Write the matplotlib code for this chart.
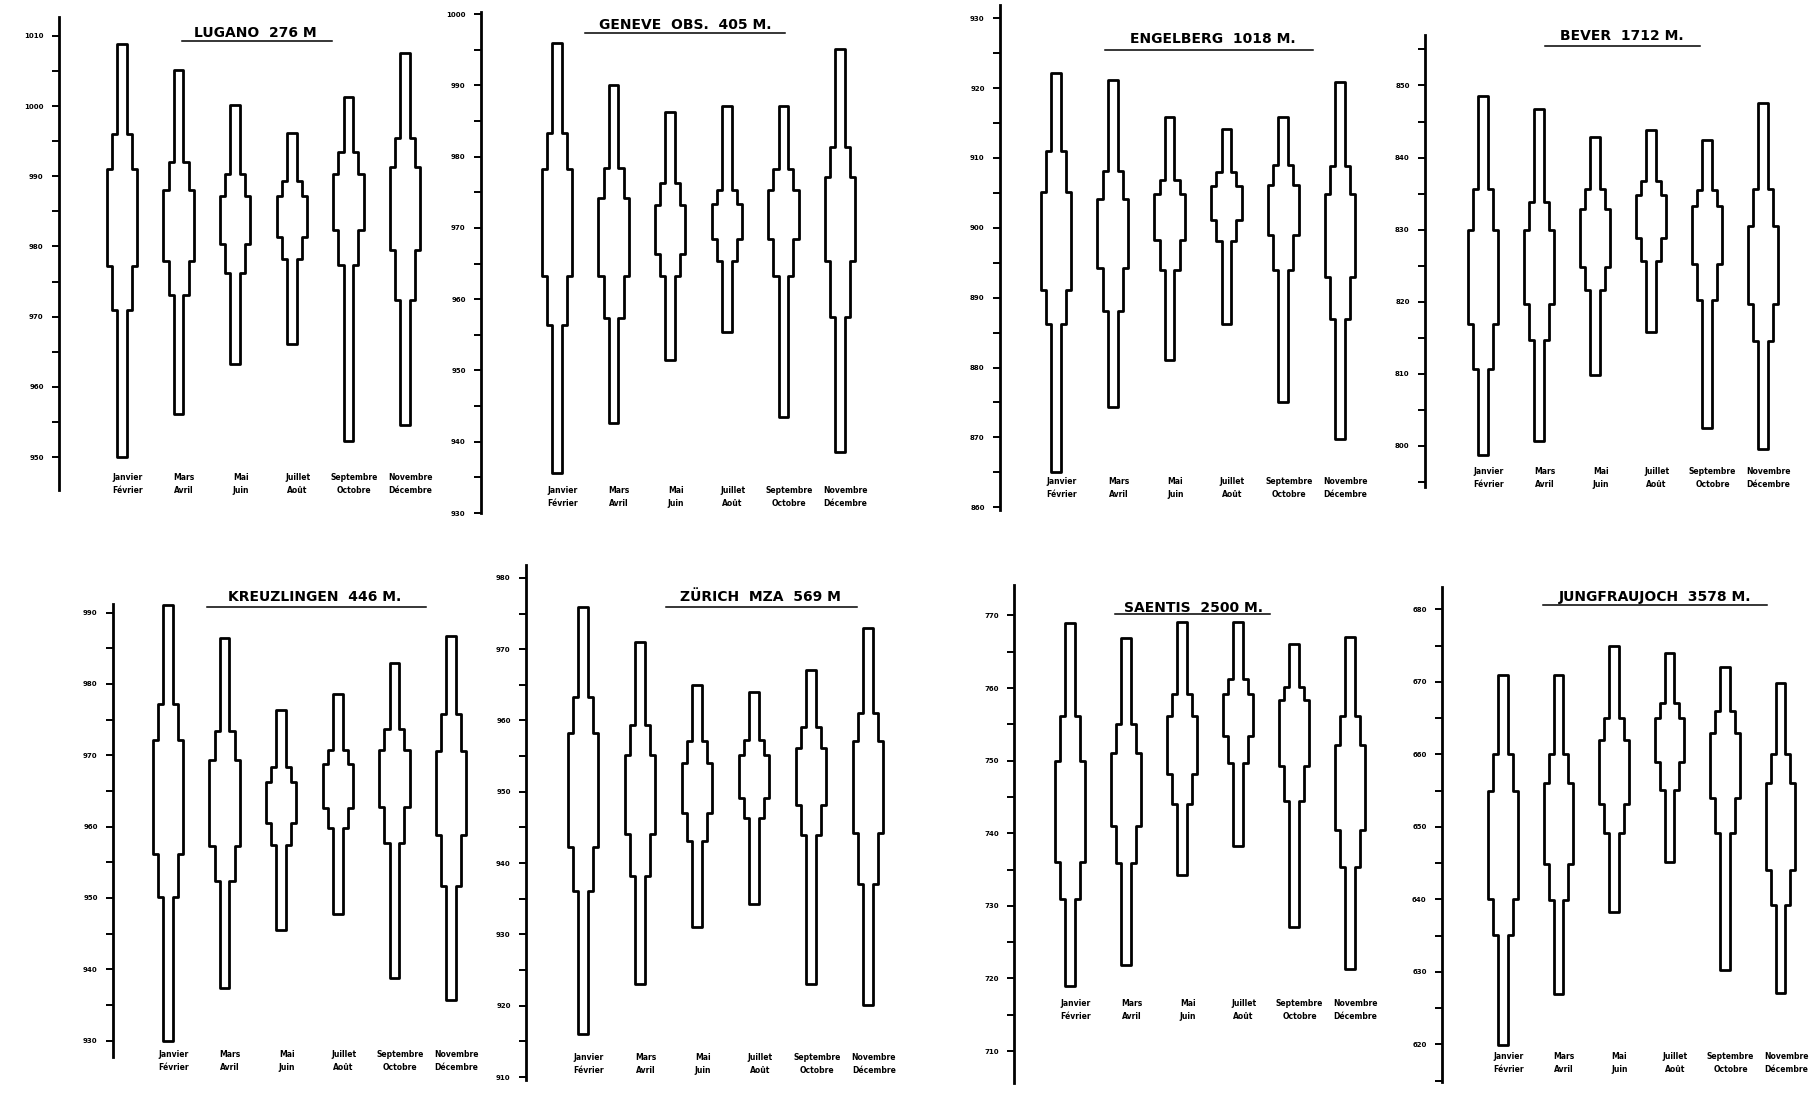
import matplotlib
matplotlib.use("Agg")
import matplotlib.pyplot as plt
from matplotlib.ticker import MultipleLocator
from matplotlib.patches import Polygon
from matplotlib.lines import Line2D
import matplotlib.transforms as mtransforms

plt.rcParams['font.family'] = ['DejaVu Sans']
plt.rcParams['font.weight'] = 'bold'

W, H = 1818, 1107

CATEGORIES = ["Janvier\nFévrier", "Mars\nAvril", "Mai\nJuin",
              "Juillet\nAoût", "Septembre\nOctobre", "Novembre\nDécembre"]

# ---- data (hPa): maximum, upper inner, upper core, lower core, lower inner, minimum
LUGANO_MAX = [1008.9, 1005.2, 1000.1, 996.2, 1001.3, 1007.5]
LUGANO_HI2 = [996.0, 992.1, 990.3, 989.3, 993.4, 995.5]
LUGANO_HI1 = [991.1, 988.1, 987.2, 987.2, 990.3, 991.3]
LUGANO_LO1 = [977.2, 978.0, 980.3, 981.4, 982.3, 979.5]
LUGANO_LO2 = [971.0, 973.1, 976.2, 978.2, 977.3, 972.4]
LUGANO_MIN = [950.0, 956.1, 963.2, 966.1, 952.3, 954.5]

GENEVE_MAX = [996.0, 990.1, 986.2, 987.1, 987.1, 995.1]
GENEVE_HI2 = [983.3, 978.4, 976.3, 975.3, 978.3, 981.3]
GENEVE_HI1 = [978.2, 974.2, 973.2, 973.3, 975.3, 977.2]
GENEVE_LO1 = [963.3, 963.2, 966.3, 968.5, 968.5, 965.3]
GENEVE_LO2 = [956.4, 957.4, 963.3, 965.3, 963.3, 957.5]
GENEVE_MIN = [935.6, 942.6, 951.4, 955.4, 943.5, 938.5]

ENGELBERG_MAX = [922.1, 921.1, 915.9, 914.1, 915.9, 920.9]
ENGELBERG_HI2 = [911.0, 908.1, 906.9, 908.0, 909.0, 908.9]
ENGELBERG_HI1 = [905.1, 904.1, 904.9, 906.0, 906.1, 904.8]
ENGELBERG_LO1 = [891.1, 894.2, 898.3, 901.1, 899.0, 893.0]
ENGELBERG_LO2 = [886.3, 888.1, 894.0, 898.1, 894.0, 886.9]
ENGELBERG_MIN = [865.1, 874.3, 881.1, 886.2, 875.0, 869.8]

BEVER_MAX = [848.5, 846.7, 842.8, 843.8, 842.4, 847.6]
BEVER_HI2 = [835.6, 833.8, 835.7, 836.8, 835.5, 835.7]
BEVER_HI1 = [829.9, 829.9, 832.8, 834.8, 833.3, 830.5]
BEVER_LO1 = [816.9, 819.7, 824.8, 828.8, 825.3, 819.7]
BEVER_LO2 = [810.7, 814.7, 821.6, 825.6, 820.2, 814.6]
BEVER_MIN = [798.7, 800.7, 809.8, 815.8, 802.5, 799.6]

KREUZLINGEN_MAX = [991.1, 986.4, 976.4, 978.6, 982.9, 986.7]
KREUZLINGEN_HI2 = [977.2, 973.4, 968.4, 970.8, 973.7, 975.8]
KREUZLINGEN_HI1 = [972.2, 969.4, 966.3, 968.8, 970.7, 970.6]
KREUZLINGEN_LO1 = [956.2, 957.3, 960.5, 962.6, 962.8, 958.8]
KREUZLINGEN_LO2 = [950.1, 952.4, 957.4, 959.8, 957.7, 951.7]
KREUZLINGEN_MIN = [930.0, 937.4, 945.5, 947.8, 938.8, 935.7]

ZURICH_MAX = [975.9, 971.0, 965.0, 964.0, 967.1, 973.0]
ZURICH_HI2 = [963.3, 959.3, 957.1, 957.2, 959.1, 961.1]
ZURICH_HI1 = [958.2, 955.1, 954.1, 955.2, 956.1, 957.1]
ZURICH_LO1 = [942.2, 944.1, 947.1, 949.2, 948.1, 944.2]
ZURICH_LO2 = [936.1, 938.2, 943.1, 946.3, 943.9, 937.1]
ZURICH_MIN = [916.0, 923.1, 931.1, 934.3, 923.1, 920.1]

SAENTIS_MAX = [768.9, 766.9, 769.1, 769.1, 766.1, 767.0]
SAENTIS_HI2 = [756.1, 755.1, 759.2, 761.2, 760.2, 756.1]
SAENTIS_HI1 = [750.0, 751.1, 756.1, 759.2, 758.3, 752.2]
SAENTIS_LO1 = [736.0, 741.0, 748.2, 753.4, 749.3, 740.4]
SAENTIS_LO2 = [731.0, 735.9, 744.1, 749.7, 744.4, 735.4]
SAENTIS_MIN = [719.0, 721.9, 734.2, 738.2, 727.1, 721.3]

JUNGFRAU_MAX = [670.9, 670.9, 674.9, 674.0, 672.0, 669.9]
JUNGFRAU_HI2 = [660.0, 660.0, 665.0, 667.1, 666.0, 660.0]
JUNGFRAU_HI1 = [655.0, 656.0, 662.0, 665.0, 663.0, 656.0]
JUNGFRAU_LO1 = [640.1, 644.9, 653.2, 659.0, 654.0, 644.0]
JUNGFRAU_LO2 = [635.1, 639.9, 649.1, 655.1, 649.1, 639.2]
JUNGFRAU_MIN = [619.9, 627.0, 638.2, 645.2, 630.2, 627.1]

TITLES = ["LUGANO  276 M", "GENEVE  OBS.  405 M.", "ENGELBERG  1018 M.", "BEVER  1712 M.",
          "KREUZLINGEN  446 M.", "ZÜRICH  MZA  569 M", "SAENTIS  2500 M.", "JUNGFRAUJOCH  3578 M."]

SERIES = [
    (LUGANO_MAX, LUGANO_HI2, LUGANO_HI1, LUGANO_LO1, LUGANO_LO2, LUGANO_MIN),
    (GENEVE_MAX, GENEVE_HI2, GENEVE_HI1, GENEVE_LO1, GENEVE_LO2, GENEVE_MIN),
    (ENGELBERG_MAX, ENGELBERG_HI2, ENGELBERG_HI1, ENGELBERG_LO1, ENGELBERG_LO2, ENGELBERG_MIN),
    (BEVER_MAX, BEVER_HI2, BEVER_HI1, BEVER_LO1, BEVER_LO2, BEVER_MIN),
    (KREUZLINGEN_MAX, KREUZLINGEN_HI2, KREUZLINGEN_HI1, KREUZLINGEN_LO1, KREUZLINGEN_LO2, KREUZLINGEN_MIN),
    (ZURICH_MAX, ZURICH_HI2, ZURICH_HI1, ZURICH_LO1, ZURICH_LO2, ZURICH_MIN),
    (SAENTIS_MAX, SAENTIS_HI2, SAENTIS_HI1, SAENTIS_LO1, SAENTIS_LO2, SAENTIS_MIN),
    (JUNGFRAU_MAX, JUNGFRAU_HI2, JUNGFRAU_HI1, JUNGFRAU_LO1, JUNGFRAU_LO2, JUNGFRAU_MIN),
]

YLIMS = [(945.3, 1012.7), (930.0, 1000.3), (859.6, 931.9), (794.3, 857.0),
         (927.7, 991.2), (909.6, 981.8), (705.6, 774.2), (614.8, 683.1)]

# ---- layout (pixels): axis x, top y, bottom y, first bar x, bar spacing,
#      title centre x,y, underline x1,x2,y, category label y
LAYOUT = [
    (59, 17, 490, 122, 56.6, 255, 33, 182, 332, 41, 484),
    (481, 12, 513, 557, 56.6, 685, 25, 585, 785, 33, 497),
    (1000, 5, 510, 1056, 56.8, 1213, 39, 1105, 1313, 50, 488),
    (1425, 35, 487, 1483, 56.0, 1622, 36, 1545, 1700, 46, 478),
    (113, 604, 1057, 168, 56.6, 315, 597, 207, 426, 607, 1061),
    (526, 565, 1080, 583, 57.0, 760, 597, 666, 857, 607, 1064),
    (1014, 585, 1083, 1070, 56.0, 1193, 608, 1115, 1270, 614, 1010),
    (1442, 587, 1082, 1503, 55.5, 1655, 597, 1543, 1767, 605, 1063),
]

T_HALF, M_HALF, W_HALF = 0.085, 0.175, 0.27


def outline(x, mx, hi2, hi1, lo1, lo2, mn):
    left = [(x - T_HALF, mn), (x - T_HALF, lo2), (x - M_HALF, lo2), (x - M_HALF, lo1),
            (x - W_HALF, lo1), (x - W_HALF, hi1), (x - M_HALF, hi1), (x - M_HALF, hi2),
            (x - T_HALF, hi2), (x - T_HALF, mx)]
    right = [(2 * x - px, py) for px, py in reversed(left)]
    return left + right


fig = plt.figure(figsize=(W / 100, H / 100), dpi=100)
fig.patch.set_facecolor('white')

for k in range(8):
    ax_x, top, bot, c0, sp, tx, ty, u1, u2, uy, cy = LAYOUT[k]
    right_px = c0 + 5.9 * sp
    ax = fig.add_axes([ax_x / W, 1 - bot / H, (right_px - ax_x) / W, (bot - top) / H])
    ax.set_xlim((ax_x - c0) / sp, (right_px - c0) / sp)
    ax.set_ylim(*YLIMS[k])
    for s in ('top', 'right', 'bottom'):
        ax.spines[s].set_visible(False)
    ax.spines['left'].set_linewidth(2.0)
    ax.set_xticks([])
    ax.yaxis.set_major_locator(MultipleLocator(10))
    ax.yaxis.set_minor_locator(MultipleLocator(5))
    ax.tick_params(axis='y', which='both', direction='out', length=5, width=1.4)
    ax.tick_params(axis='y', which='major', labelsize=5, pad=6)
    for lab in ax.get_yticklabels():
        lab.set_fontweight('bold')
    ax.patch.set_alpha(0)

    mxs, hi2s, hi1s, lo1s, lo2s, mns = SERIES[k]
    for i in range(len(CATEGORIES)):
        verts = outline(i, mxs[i], hi2s[i], hi1s[i], lo1s[i], lo2s[i], mns[i])
        ax.add_patch(Polygon(verts, closed=True, facecolor='white', edgecolor='black',
                             lw=2.0, joinstyle='round'))

    trans = mtransforms.blended_transform_factory(ax.transData, fig.transFigure)
    for i, cat in enumerate(CATEGORIES):
        ax.text(i + 0.1, 1 - cy / H, cat, transform=trans, ha='center', va='center',
                fontsize=5.5, fontweight='bold', linespacing=1.7, clip_on=False)

    fig.text(tx / W, 1 - ty / H, TITLES[k], ha='center', va='center',
             fontsize=10, fontweight='bold')
    fig.add_artist(Line2D([u1 / W, u2 / W], [1 - uy / H, 1 - uy / H],
                          transform=fig.transFigure, color='black', lw=1.1))

fig.savefig("out.png", dpi=100, facecolor='white')
